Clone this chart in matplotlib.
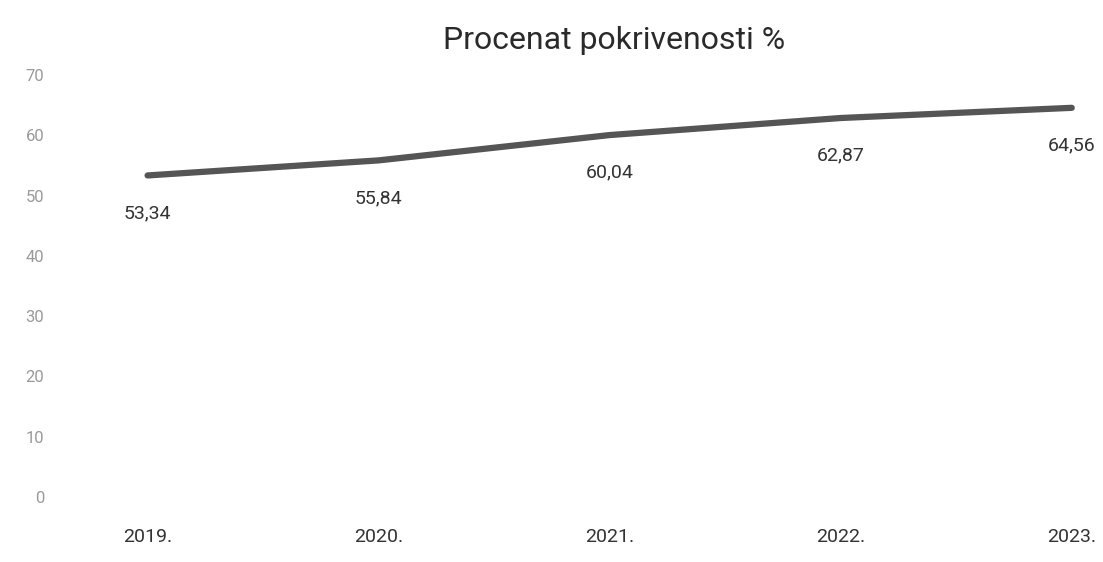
## Line chart of coverage percentage per year

import matplotlib
matplotlib.use("Agg")
import matplotlib.pyplot as plt

years = ["2019.", "2020.", "2021.", "2022.", "2023."]
coverage = [53.34, 55.84, 60.04, 62.87, 64.56]
value_labels = ["53,34", "55,84", "60,04", "62,87", "64,56"]
y_ticks = [0, 10, 20, 30, 40, 50, 60, 70]

plt.rcParams['font.family'] = ['Roboto', 'DejaVu Sans']

fig = plt.figure(figsize=(11.03, 5.62), dpi=100)
ax = fig.add_axes([0.063, 0.1157, 0.925, 0.7508])

x = list(range(len(years)))
ax.plot(x, coverage, color="#555555", linewidth=4.5, solid_capstyle="round")

# Value labels sit under the line
for xi, yi, lab in zip(x, coverage, value_labels):
	ax.annotate(lab, (xi, yi), xytext=(0, -27), textcoords="offset points",
		ha="center", va="center", fontsize=14, color="#333333")

ax.set_xlim(-0.338, 4.078)
ax.set_ylim(0, 70)
ax.set_yticks(y_ticks)
ax.set_xticks(x)
ax.set_xticklabels(years)
ax.tick_params(axis="y", length=0, pad=18, labelsize=12, labelcolor="#9a9a9a")
ax.tick_params(axis="x", length=0, pad=22, labelsize=14, labelcolor="#333333")
for spine in ax.spines.values():
	spine.set_visible(False)

fig.text(0.557, 0.928, "Procenat pokrivenosti %", ha="center", va="center",
	fontsize=23, color="#2a2a2a")

plt.savefig("out.png", dpi=100)
